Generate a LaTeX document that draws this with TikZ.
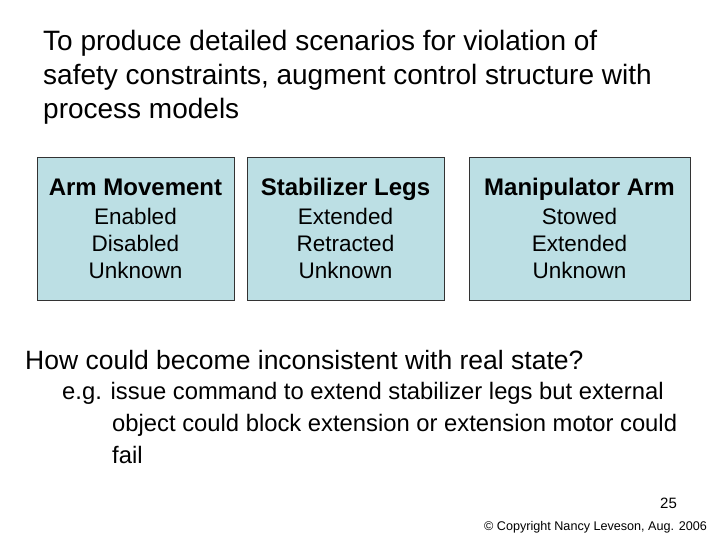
\documentclass[tikz,border=0pt]{standalone}
\usepackage{fontspec}
\setmainfont{Liberation Sans}
\usetikzlibrary{positioning}
\definecolor{boxblue}{HTML}{BCDFE4}
\tikzset{
  statebox/.style={draw=black!80,fill=boxblue,line width=0.8pt,anchor=north west},
  boxhead/.style={font=\fontsize{24}{28}\selectfont\bfseries,anchor=base},
  boxvals/.style={font=\fontsize{22.5}{27}\selectfont,align=center,anchor=north},
  txt/.style={anchor=west,inner sep=0pt}
}
\begin{document}
\begin{tikzpicture}[x=1pt,y=-1pt]
    \useasboundingbox (0,0) rectangle (720,540);
    % title
    \node[txt,align=left,font=\fontsize{28}{34}\selectfont,anchor=north west] (title) at (43,30)
      {To produce detailed scenarios for violation of\\safety constraints, augment control structure with\\process models};
    % process model boxes
    \path[statebox] (37,157) rectangle (234,300);
    \path[statebox] (247,157) rectangle (444,300);
    \path[statebox] (469,157) rectangle (690,300);
    \node[boxhead] (arm) at (135.5,196) {Arm Movement};
    \node[boxhead] (legs) at (345.5,196) {Stabilizer Legs};
    \node[boxhead] (manip) at (579.5,196) {Manipulator Arm};
    \node[boxvals] (armv) at (135.5,205) {Enabled\\Disabled\\Unknown};
    \node[boxvals] (legsv) at (345.5,205) {Extended\\Retracted\\Unknown};
    \node[boxvals] (manipv) at (579.5,205) {Stowed\\Extended\\Unknown};
    % question
    \node[txt,font=\fontsize{26.5}{30}\selectfont] (quest) at (25,360) {How could become inconsistent with real state?};
    \node[txt,font=\fontsize{23.8}{32}\selectfont,align=left,anchor=north west] (eg) at (62,382)
      {e.g. issue command to extend stabilizer legs but external\\
       \hspace*{50pt}object could block extension or extension motor could\\
       \hspace*{50pt}fail};
    % footer
    \node[txt,font=\fontsize{15}{17}\selectfont] (page) at (660,503) {25};
    \node[txt,font=\fontsize{12.6}{14}\selectfont] (copy) at (484,527) {© Copyright Nancy Leveson, Aug. 2006};
\end{tikzpicture}
\end{document}
